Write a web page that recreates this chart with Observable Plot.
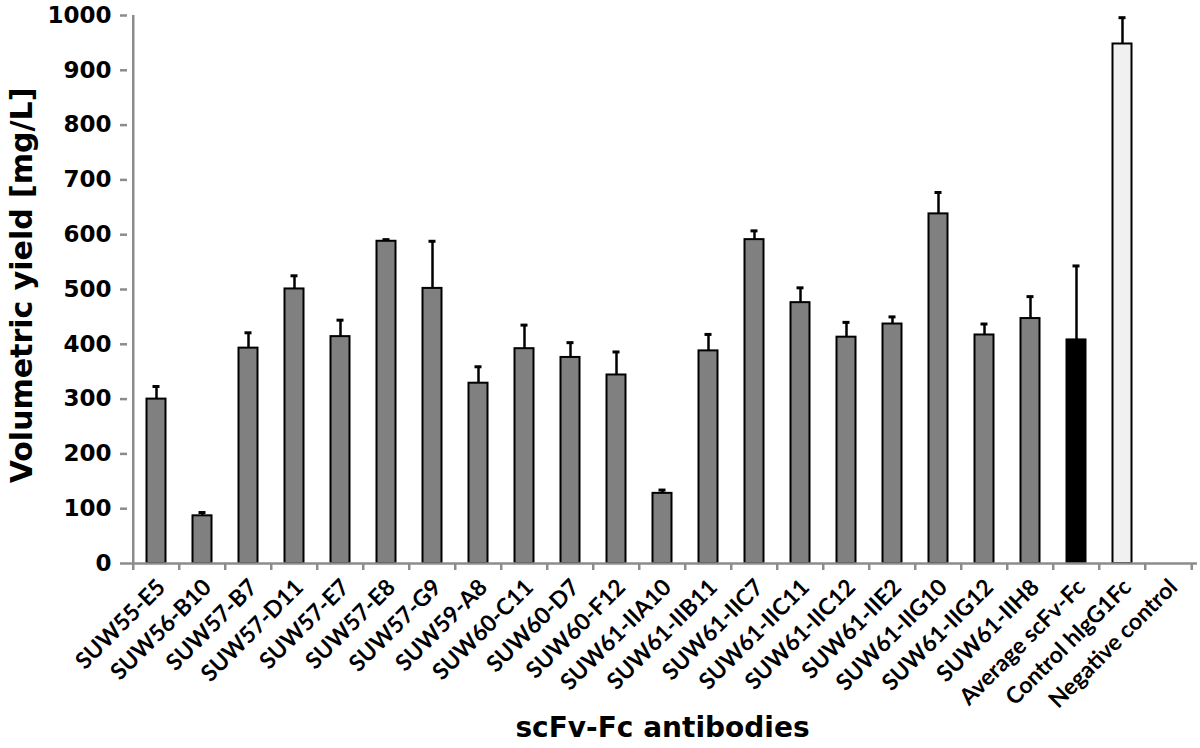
<!DOCTYPE html>
<html><head><meta charset="utf-8">
<script src="https://cdn.jsdelivr.net/npm/d3@7"></script>
<script src="https://cdn.jsdelivr.net/npm/@observablehq/plot@0.6"></script>
<style>body{margin:0;background:#fff}</style>
</head><body><div id="chart"></div>
<script>
const categories = ["SUW55-E5","SUW56-B10","SUW57-B7","SUW57-D11","SUW57-E7","SUW57-E8","SUW57-G9","SUW59-A8","SUW60-C11","SUW60-D7","SUW60-F12","SUW61-IIA10","SUW61-IIB11","SUW61-IIC7","SUW61-IIC11","SUW61-IIC12","SUW61-IIE2","SUW61-IIG10","SUW61-IIG12","SUW61-IIH8","Average scFv-Fc","Control hIgG1Fc","Negative control"];
const values = [300, 87, 393, 501, 414, 588, 502, 329, 392, 376, 344, 128, 388, 591, 476, 413, 437, 638, 417, 447, 408, 948, 0];
const errors = [23, 6, 28, 24, 30, 3, 86, 30, 43, 27, 42, 6, 30, 16, 27, 27, 13, 39, 20, 40, 135, 48, 0];
const groups = ["antibody","antibody","antibody","antibody","antibody","antibody","antibody","antibody","antibody","antibody","antibody","antibody","antibody","antibody","antibody","antibody","antibody","antibody","antibody","antibody","average","control","negative"];
const yTicks = [0,100,200,300,400,500,600,700,800,900,1000];
const xTitle = "scFv-Fc antibodies";
const yTitle = "Volumetric yield [mg/L]";

const data = categories.map((name, i) => ({name, value: values[i], err: errors[i], group: groups[i]}));
const W = 1200, H = 748, mL = 127, mR = 3, mT = 15, mB = 185;
const step = (W - mL - mR) / categories.length;
const axisGray = "#8c8c8c";

const chart = Plot.plot({
  width: W, height: H,
  marginLeft: mL, marginRight: mR, marginTop: mT, marginBottom: mB,
  style: {background: "#fff", color: "#000", overflow: "visible"},
  x: {domain: categories, padding: 0, label: null},
  y: {domain: [0, 1000], label: null},
  color: {domain: ["antibody","average","control","negative"], range: ["#808080","#000000","#f0f0f0","#ffffff"]},
  marks: [
    Plot.barY(data.filter(d => d.value > 0), {x: "name", y: "value", fill: "group", stroke: "#000", strokeWidth: 2, insetLeft: 13.5, insetRight: 13.5}),
    Plot.ruleX(data.filter(d => d.err > 0), {x: "name", y1: "value", y2: d => d.value + d.err, stroke: "#000", strokeWidth: 2.5}),
    Plot.tickY(data.filter(d => d.err > 0), {x: "name", y: d => d.value + d.err, stroke: "#000", strokeWidth: 3, insetLeft: 19.5, insetRight: 19.5}),
    Plot.ruleY([0], {stroke: axisGray, strokeWidth: 2.5}),
    Plot.ruleX([categories[0]], {x: d => d, dx: -step / 2, stroke: axisGray, strokeWidth: 2.5}),
    Plot.axisY(yTicks, {tickSize: 7, tickPadding: 9, tickFormat: d => String(d), stroke: axisGray, strokeWidth: 2.5, fontSize: 23, fontFamily: "DejaVu Sans", fontWeight: "bold", fill: "#000", label: null}),
    Plot.axisX(categories, {tickSize: 7, tickFormat: () => "", dx: -step / 2, stroke: axisGray, strokeWidth: 2.5, label: null}),
    Plot.axisX([categories[categories.length - 1]], {tickSize: 7, tickFormat: () => "", dx: step / 2, stroke: axisGray, strokeWidth: 2.5, label: null}),
    Plot.axisX(categories, {tickSize: 0, tickRotate: -45, tickPadding: 20, dx: 5, fontSize: 23, fontFamily: "Lato", fontWeight: "bold", fill: "#000", label: null}),
    Plot.text([yTitle], {frameAnchor: "left", textAnchor: "middle", rotate: -90, dx: -105, dy: -4, fontSize: 30, fontWeight: "bold", fontFamily: "DejaVu Sans", fill: "#000"}),
    Plot.text([xTitle], {frameAnchor: "bottom", textAnchor: "middle", dy: 173, fontSize: 28, fontWeight: "bold", fontFamily: "DejaVu Sans", fill: "#000"})
  ]
});
document.getElementById("chart").appendChild(chart);
</script>
</body></html>
